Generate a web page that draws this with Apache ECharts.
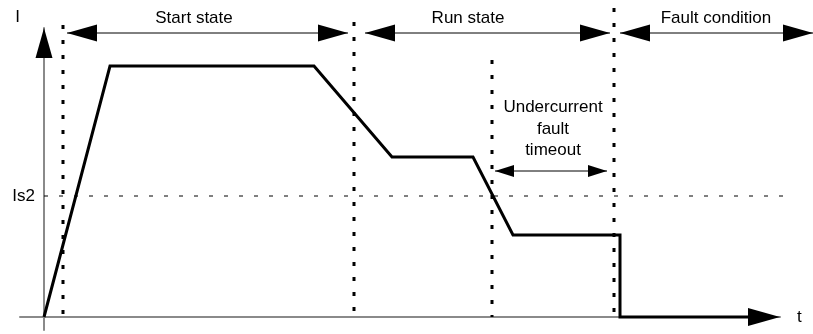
<!DOCTYPE html>
<html>
<head>
<meta charset="utf-8">
<title>Current profile</title>
<script src="https://cdn.jsdelivr.net/npm/echarts@6/dist/echarts.min.js"></script>
<style>
  html, body { margin: 0; padding: 0; background: #fff; }
  #chart { width: 813px; height: 334px; }
</style>
</head>
<body>
<div id="chart"></div>
<script>
// current profile, diagram units (t, I)
const profileT = [0, 66, 270, 348, 429, 469, 576, 576, 704];
const profileI = [0, 251, 251, 160, 160, 82, 82, 0, 0];

// Is2 threshold
const is2Level = 121;
const is2Span = [0, 739];

// dotted state boundaries
const markerT = [19, 310, 448, 570];
const markerTop = [292, 295, 257, 309];

// state spans along the top
const stateNames = ['Start state', 'Run state', 'Fault condition'];
const stateFrom = [23, 321, 576];
const stateTo = [304, 566, 769];
const stateLabelT = [150, 424, 672];
const stateArrowI = 284;
const stateLabelI = 299;

// undercurrent timeout
const timeoutLines = ['Undercurrent', 'fault', 'timeout'];
const timeoutSpan = [451, 563];
const timeoutArrowI = 146;
const timeoutLabelT = 509;
const timeoutLabelI = [210, 188, 167];

// axis extents
const tRange = [-24, 736];
const iRange = [-13, 289];

const FONT = '17px "Liberation Sans", Arial, sans-serif';

// triangle head with its tip at `tip`, pointing along (dx, dy)
function head(tip, dx, dy, len, half) {
    const bx = tip[0] - dx * len, by = tip[1] - dy * len;
    return {
        type: 'polygon',
        shape: { points: [tip, [bx - dy * half, by + dx * half], [bx + dy * half, by - dx * half]] },
        style: { fill: '#000' }
    };
}

function spanArrow(a, b, len, half, width) {
    return [
        { type: 'line', shape: { x1: a[0], y1: a[1], x2: b[0], y2: b[1] }, style: { stroke: '#000', lineWidth: width } },
        head(a, -1, 0, len, half),
        head(b, 1, 0, len, half)
    ];
}

const chart = echarts.init(document.getElementById('chart'));

const option = {
    animation: false,
    grid: { left: 20, right: 33, top: 28, bottom: 4 },
    xAxis: {
        type: 'value',
        min: tRange[0],
        max: tRange[1],
        name: 't',
        nameLocation: 'end',
        nameGap: 17,
        nameTextStyle: { color: '#000', fontSize: 17, fontFamily: 'Liberation Sans' },
        axisLine: { onZero: true, lineStyle: { color: '#8a8a8a', width: 2 } },
        axisTick: { show: false },
        axisLabel: { show: false },
        splitLine: { show: false }
    },
    yAxis: {
        type: 'value',
        min: iRange[0],
        max: iRange[1],
        name: 'I',
        nameLocation: 'end',
        nameGap: 2,
        nameTextStyle: { color: '#000', fontSize: 17, fontFamily: 'Liberation Sans', align: 'right', padding: [0, 24, 0, 0] },
        axisLine: { onZero: true, lineStyle: { color: '#8a8a8a', width: 2 } },
        axisTick: { show: false },
        axisLabel: { show: false },
        splitLine: { show: false }
    },
    series: [
        {
            // Is2 threshold line + its label
            name: 'Is2',
            type: 'custom',
            clip: false,
            data: [[is2Span[0], is2Span[1], is2Level]],
            renderItem: (params, api) => {
                const a = api.coord([api.value(0), api.value(2)]);
                const b = api.coord([api.value(1), api.value(2)]);
                return {
                    type: 'group',
                    children: [{
                        type: 'line',
                        shape: { x1: a[0], y1: a[1], x2: b[0], y2: b[1] },
                        style: { stroke: '#000', lineWidth: 1, lineDash: [4, 11] }
                    }, {
                        type: 'text',
                        style: { text: 'Is2', x: a[0] - 9, y: a[1], align: 'right', verticalAlign: 'middle', font: FONT, fill: '#000' }
                    }]
                };
            },
            z: 2
        },
        {
            name: 'markers',
            type: 'custom',
            clip: false,
            data: markerT.map((t, k) => [t, markerTop[k]]),
            renderItem: (params, api) => {
                const top = api.coord([api.value(0), api.value(1)]);
                const bottom = api.coord([api.value(0), 0]);
                return {
                    type: 'line',
                    shape: { x1: top[0], y1: top[1], x2: bottom[0], y2: bottom[1] },
                    style: { stroke: '#000', lineWidth: 3, lineDash: [4, 11] }
                };
            },
            z: 3
        },
        {
            name: 'current',
            type: 'line',
            data: profileT.map((t, k) => [t, profileI[k]]),
            symbol: 'none',
            clip: false,
            lineStyle: { color: '#000', width: 3, join: 'miter' },
            z: 4
        },
        {
            name: 'axisHeads',
            type: 'custom',
            clip: false,
            data: [[0, iRange[1], 0, -1, 30, 8.5], [tRange[1], 0, 1, 0, 32, 9]],
            renderItem: (params, api) => {
                const tip = api.coord([api.value(0), api.value(1)]);
                return head(tip, api.value(2), api.value(3), api.value(4), api.value(5));
            },
            z: 5
        },
        {
            name: 'states',
            type: 'custom',
            clip: false,
            data: stateNames.map((n, k) => [stateFrom[k], stateTo[k], stateLabelT[k]]),
            renderItem: (params, api) => {
                const a = api.coord([api.value(0), stateArrowI]);
                const b = api.coord([api.value(1), stateArrowI]);
                const lbl = api.coord([api.value(2), stateLabelI]);
                return {
                    type: 'group',
                    children: spanArrow(a, b, 30, 8.5, 1).concat([{
                        type: 'text',
                        style: {
                            text: stateNames[params.dataIndex], x: lbl[0], y: lbl[1],
                            align: 'center', verticalAlign: 'middle', font: FONT, fill: '#000'
                        }
                    }])
                };
            },
            z: 5
        },
        {
            name: 'timeout',
            type: 'custom',
            clip: false,
            data: [[timeoutSpan[0], timeoutSpan[1], timeoutArrowI]],
            renderItem: (params, api) => {
                const a = api.coord([api.value(0), api.value(2)]);
                const b = api.coord([api.value(1), api.value(2)]);
                const texts = timeoutLines.map((s, k) => {
                    const p = api.coord([timeoutLabelT, timeoutLabelI[k]]);
                    return {
                        type: 'text',
                        style: { text: s, x: p[0], y: p[1], align: 'center', verticalAlign: 'middle', font: FONT, fill: '#000' }
                    };
                });
                return { type: 'group', children: spanArrow(a, b, 19, 6, 1).concat(texts) };
            },
            z: 5
        }
    ]
};

chart.setOption(option);
</script>
</body>
</html>
